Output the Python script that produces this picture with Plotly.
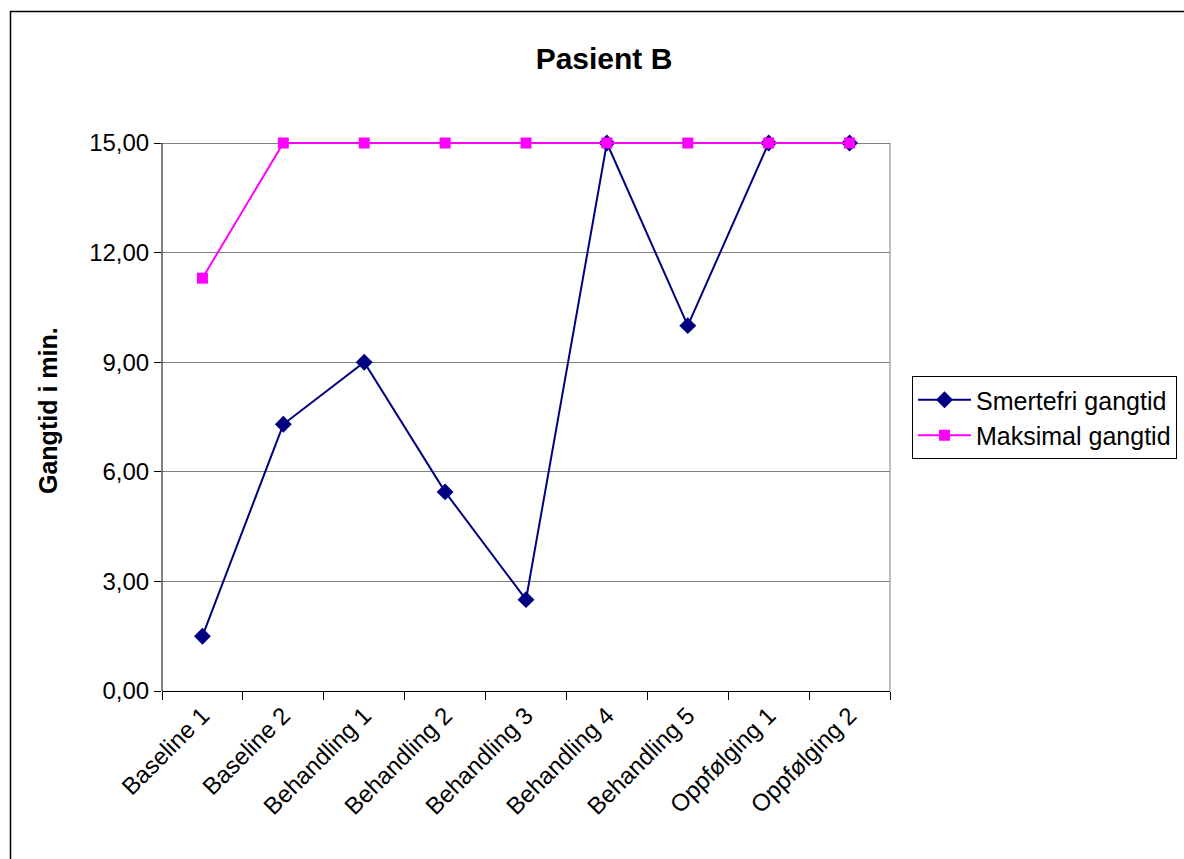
import plotly.graph_objects as go

categories = ["Baseline 1", "Baseline 2", "Behandling 1", "Behandling 2", "Behandling 3",
              "Behandling 4", "Behandling 5", "Oppfølging 1", "Oppfølging 2"]
smertefri = [1.5, 7.3, 9.0, 5.45, 2.5, 15.0, 10.0, 15.0, 15.0]
maksimal = [11.3, 15.0, 15.0, 15.0, 15.0, 15.0, 15.0, 15.0, 15.0]
y_ticks = [0, 3, 6, 9, 12, 15]

FONT = "Arial, Liberation Sans, sans-serif"

fig = go.Figure()
fig.add_trace(go.Scatter(
    x=categories, y=smertefri, name="Smertefri gangtid", mode="lines+markers",
    line=dict(color="#000080", width=2),
    marker=dict(symbol="diamond", size=13, color="#000080"),
    cliponaxis=False,
))
fig.add_trace(go.Scatter(
    x=categories, y=maksimal, name="Maksimal gangtid", mode="lines+markers",
    line=dict(color="#FF00FF", width=2),
    marker=dict(symbol="square", size=11, color="#FF00FF"),
    cliponaxis=False,
))

W, H = 1184, 859
L, R, B = 162, 890, 691
TOP15 = 143
YMAX = 15.0
unit = (B - TOP15) / YMAX          # px per y unit
EXTRA_PX = 4
T = TOP15 - EXTRA_PX
ytop = YMAX + EXTRA_PX / unit
pw, ph = R - L, B - T

def px(x):
    return (x - L) / pw

def py(y):
    return (B - y) / ph

fig.update_layout(
    width=W, height=H,
    margin=dict(l=L, r=W - R, t=T, b=H - B, autoexpand=False),
    paper_bgcolor="white", plot_bgcolor="white",
    separators=", ",
    font=dict(family=FONT, size=24, color="black"),
    title=dict(text="<b>Pasient B</b>", x=604 / W, xref="container", xanchor="center",
               y=1 - 58 / H, yref="container", yanchor="middle",
               font=dict(family=FONT, size=30, color="black")),
    showlegend=True,
    legend=dict(x=px(912), y=py(376), xanchor="left", yanchor="top",
                bordercolor="black", borderwidth=1, bgcolor="white",
                font=dict(family=FONT, size=25, color="black"),
                itemwidth=53, tracegroupgap=0),
    xaxis=dict(
        type="category", showgrid=False, showline=True, linecolor="black", linewidth=1,
        ticks="outside", tickson="boundaries", ticklen=8, tickcolor="black",
        tickangle=-45, tickfont=dict(family=FONT, size=24, color="black"),
        range=[-0.5, len(categories) - 0.5],
    ),
    yaxis=dict(
        range=[0, ytop], tickvals=y_ticks, tickformat=".2f",
        showgrid=True, gridcolor="#808080", gridwidth=1,
        showline=False,
        ticks="outside", ticklen=7, tickcolor="black",
        tickfont=dict(family=FONT, size=24, color="black"),
        zeroline=False,
    ),
    shapes=[
        # left axis line (black), from 0 to 15
        dict(type="line", xref="paper", yref="y", x0=0, x1=0, y0=0, y1=YMAX,
             line=dict(color="black", width=1), layer="above"),
        # right border of plot area (gray)
        dict(type="line", xref="paper", yref="y", x0=1, x1=1, y0=0, y1=YMAX,
             line=dict(color="#808080", width=1), layer="below"),
        # outer chart frame
        dict(type="rect", xref="paper", yref="paper",
             x0=px(10.5), x1=px(1300), y0=py(1000), y1=py(11.5),
             line=dict(color="black", width=1.5), fillcolor="rgba(0,0,0,0)", layer="below"),
    ],
    annotations=[
        dict(text="<b>Gangtid i min.</b>", textangle=-90, xref="paper", yref="paper",
             x=px(48), y=py(411), xanchor="center", yanchor="middle", showarrow=False,
             font=dict(family=FONT, size=25, color="black")),
    ],
)

fig.write_html(
    "out.html",
    config={"displayModeBar": False},
    post_script="document.body.style.margin='0';document.body.style.overflow='hidden';",
)
